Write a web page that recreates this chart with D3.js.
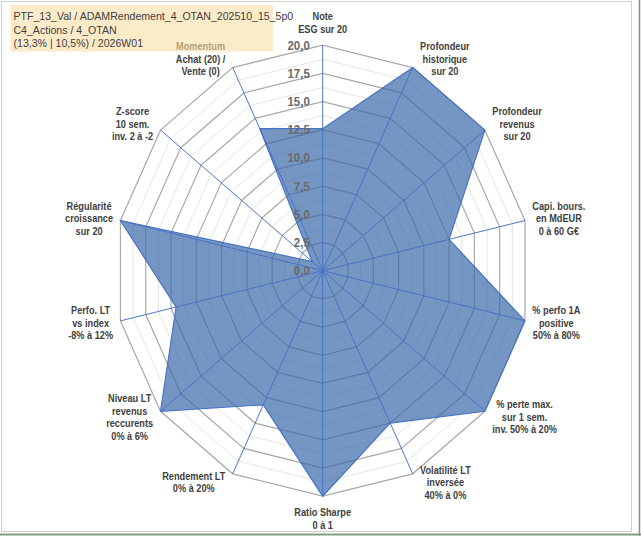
<!DOCTYPE html>
<html>
<head>
<meta charset="utf-8">
<script src="https://cdn.jsdelivr.net/npm/d3@7"></script>
<style>
  html, body { margin: 0; padding: 0; background: #ffffff; }
  svg { display: block; }
  text { font-family: "Liberation Sans", Arial, sans-serif; }
</style>
</head>
<body>
<svg id="chart" width="641" height="536"></svg>
<script>
// ---------- data ----------
const categories = [
  ["Note", "ESG sur 20"],
  ["Profondeur", "historique", "sur 20"],
  ["Profondeur", "revenus", "sur 20"],
  ["Capi. bours.", "en MdEUR", "0 à 60 G€"],
  ["% perfo 1A", "positive", "50% à 80%"],
  ["% perte max.", "sur 1 sem.", "inv. 50% à 20%"],
  ["Volatilité LT", "inversée", "40% à 0%"],
  ["Ratio Sharpe", "0 à 1"],
  ["Rendement LT", "0% à 20%"],
  ["Niveau LT", "revenus", "reccurents", "0% à 6%"],
  ["Perfo. LT", "vs index", "-8% à 12%"],
  ["Régularité", "croissance", "sur 20"],
  ["Z-score", "10 sem.", "inv. 2 à -2"],
  ["Momentum", "Achat (20) /", "Vente (0)"]
];
const values = [12.6, 20, 20, 12.5, 20, 20, 15, 20, 13.2, 20, 14.5, 20, 1.3, 14];
const majorTicks = [0, 2.5, 5, 7.5, 10, 12.5, 15, 17.5, 20];
const minorTicks = [1.25, 3.75, 6.25, 8.75, 11.25, 13.75, 16.25, 18.75];
const titleLines = [
  "PTF_13_Val / ADAMRendement_4_OTAN_202510_15_5p0",
  "C4_Actions / 4_OTAN",
  "(13,3% | 10,5%) / 2026W01"
];

// ---------- layout ----------
const sx = 0.92;              // horizontal compression of the reference
const cx = 322.7 / sx, cy = 270.7, R = 225.5;
const n = categories.length;

const svg = d3.select("#chart");

// outer frame (screen coordinates)
svg.append("rect").attr("x", 1.5).attr("y", 1.5).attr("width", 630).attr("height", 530)
  .attr("fill", "none").attr("stroke", "#cfcfcf").attr("stroke-width", 1);
svg.append("line").attr("x1", 639.5).attr("x2", 639.5).attr("y1", 0).attr("y2", 536)
  .attr("stroke", "#8c8c8c").attr("stroke-width", 1.5);
svg.append("line").attr("x1", 0).attr("x2", 641).attr("y1", 534.5).attr("y2", 534.5)
  .attr("stroke", "#7f9f7f").attr("stroke-width", 2);

const g = svg.append("g").attr("transform", `scale(${sx},1)`);

const r = d3.scaleLinear().domain([0, 20]).range([0, R]);
const angle = d3.scaleLinear().domain([0, n]).range([0, 2 * Math.PI]);
const idx = d3.range(n);

const ring = v => d3.lineRadial()
  .angle(i => angle(i))
  .radius(() => r(v))
  .curve(d3.curveLinearClosed)(idx);

const plot = g.append("g").attr("transform", `translate(${cx},${cy})`);

// minor rings
plot.selectAll("path.minor").data(minorTicks).join("path")
  .attr("class", "minor").attr("d", d => ring(d))
  .attr("fill", "none").attr("stroke", "#e4e4e4").attr("stroke-width", 1);
// major rings
plot.selectAll("path.major").data(majorTicks.filter(d => d > 0)).join("path")
  .attr("class", "major").attr("d", d => ring(d))
  .attr("fill", "none").attr("stroke", "#a9a9a9").attr("stroke-width", 1.3);

// series fill
const series = d3.lineRadial()
  .angle((d, i) => angle(i))
  .radius(d => r(d))
  .curve(d3.curveLinearClosed);
plot.append("path").attr("d", series(values))
  .attr("fill", "#3a6aaa").attr("fill-opacity", 0.7).attr("stroke", "none");

// spokes
const pt = (i, v) => [Math.sin(angle(i)) * r(v), -Math.cos(angle(i)) * r(v)];
plot.selectAll("line.spoke").data(idx).join("line")
  .attr("class", "spoke")
  .attr("x1", 0).attr("y1", 0)
  .attr("x2", i => pt(i, 20)[0]).attr("y2", i => pt(i, 20)[1])
  .attr("stroke", "#4472c4").attr("stroke-width", 1);

// series outline
plot.append("path").attr("d", series(values))
  .attr("fill", "none").attr("stroke", "#4472c4").attr("stroke-width", 1.2);

// tick labels
const fmt = v => d3.format(".1f")(v).replace(".", ",");
plot.selectAll("text.tick").data(majorTicks).join("text")
  .attr("class", "tick")
  .attr("x", -14).attr("y", d => -r(d))
  .attr("dy", "0.36em")
  .attr("text-anchor", "end")
  .attr("font-size", 12.5).attr("font-weight", "bold")
  .attr("fill", "#6a6a6a")
  .text(fmt);

// axis labels
const lh = 12.5;
idx.forEach(i => {
  const lines = categories[i];
  const [ex, ey] = pt(i, 20);
  const s = Math.sin(angle(i)), c = Math.cos(angle(i));
  const t = plot.append("text")
    .attr("text-anchor", "middle")
    .attr("font-size", 10).attr("font-weight", "bold")
    .attr("fill", "#404040");
  const spans = lines.map(l => t.append("tspan").text(l));
  let w = 0;
  spans.forEach(sp => { w = Math.max(w, sp.node().getComputedTextLength()); });
  const h = lines.length * lh;
  let lx, ly;
  if (Math.abs(s) < 0.1) {
    lx = ex;
    ly = ey + (c > 0 ? -(h / 2 + 10) : (h / 2 + 10));
  } else {
    lx = ex + Math.sign(s) * (w / 2 + 8);
    ly = ey - 9.5 * c;
  }
  spans.forEach((sp, k) => {
    sp.attr("x", lx).attr("y", ly + (k - (lines.length - 1) / 2) * lh).attr("dy", "0.36em");
  });
});

// title box (drawn over the chart, semi transparent)
g.append("rect")
  .attr("x", 10.5 / sx).attr("y", 5).attr("width", (273 - 10.5) / sx).attr("height", 46.5)
  .attr("fill", "#fadda3").attr("fill-opacity", 0.6);
g.selectAll("text.title").data(titleLines).join("text")
  .attr("class", "title")
  .attr("x", 13.5 / sx).attr("y", (d, i) => 20 + i * 13.7)
  .attr("font-size", 11.5).attr("fill", "#404040")
  .text(d => d);
</script>
</body>
</html>
